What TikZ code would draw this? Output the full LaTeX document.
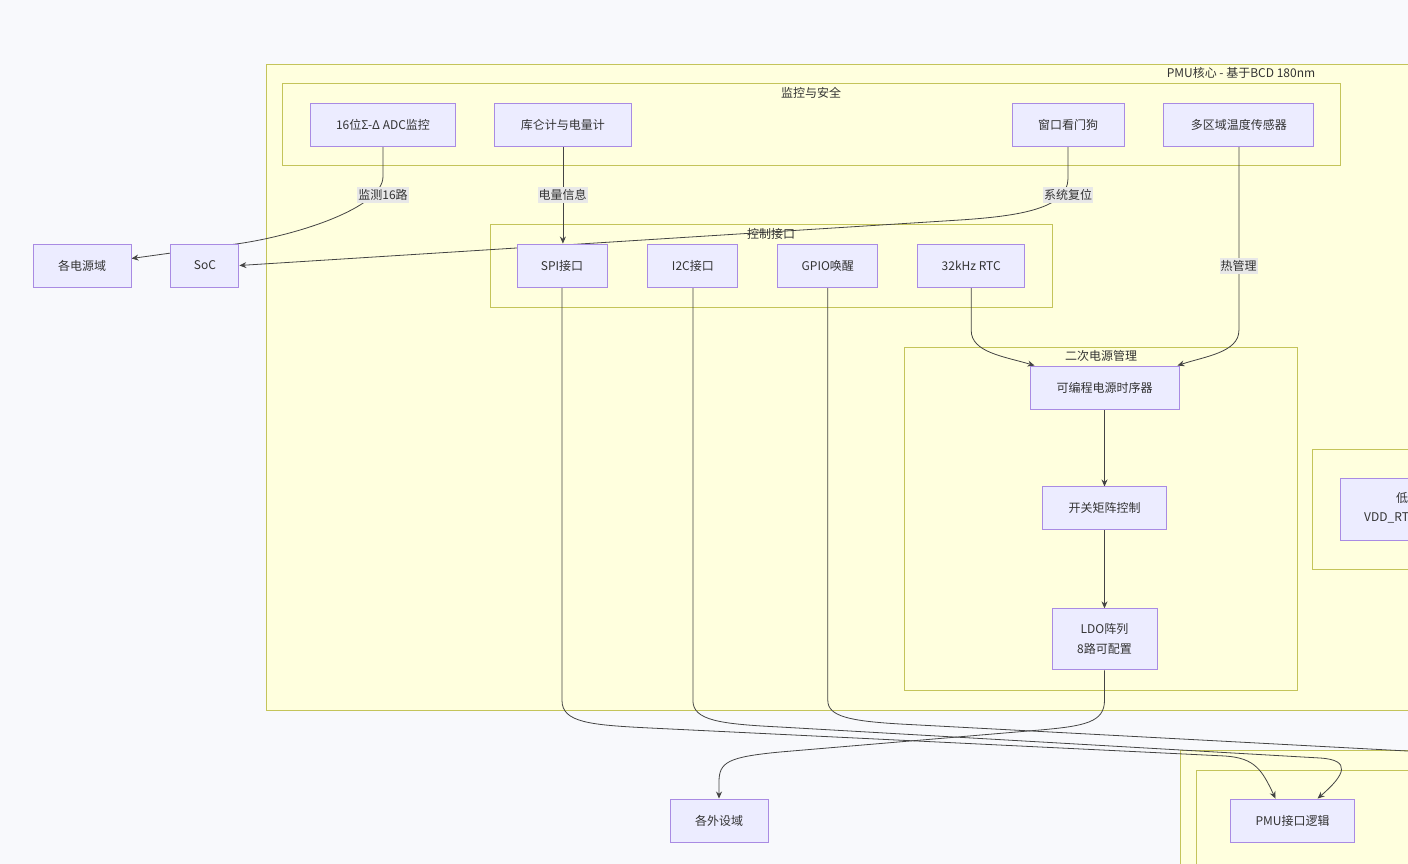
\documentclass[tikz,border=0pt]{standalone}
\usepackage{fontspec}
\setmainfont{Noto Sans CJK SC}
\usetikzlibrary{positioning,arrows.meta}

\definecolor{fond_page}{HTML}{F8F9FC}
\definecolor{fond_groupe}{HTML}{FFFFDE}
\definecolor{bord_groupe}{HTML}{C4C45A}
\definecolor{fond_bloc}{HTML}{ECECFF}
\definecolor{bord_bloc}{HTML}{A98BE3}
\definecolor{trait}{HTML}{444444}
\definecolor{texte}{HTML}{333333}
\definecolor{fond_etiquette}{HTML}{E8E8E8}

\pgfdeclarelayer{fond}
\pgfdeclarelayer{liens}
\pgfsetlayers{fond,liens,main}

\begin{document}
\begin{tikzpicture}[x=1pt,y=-1pt]
        \tikzstyle{bloc} = [rectangle, minimum height=43pt, text centered, draw=bord_bloc, fill=fond_bloc, line width=0.9pt, text=texte, font=\fontsize{12}{20}\selectfont]
        \tikzstyle{groupe} = [draw=bord_groupe, fill=fond_groupe, line width=0.9pt]
        \tikzstyle{titre_groupe} = [text=texte, inner sep=0pt, font=\fontsize{12}{14}\selectfont]
        \tikzstyle{lien} = [draw=trait, line width=0.8pt, -{Stealth[length=7pt,width=6pt]}]
        \tikzstyle{etiquette} = [fill=fond_etiquette, text=texte, inner xsep=1pt, inner ysep=2.5pt, font=\fontsize{12}{14}\selectfont]

        \useasboundingbox (0,0) rectangle (1408,864);

        % groupes
        \begin{pgfonlayer}{fond}
        \fill[fond_page] (0,0) rectangle (1408,864);
        \draw[groupe] (266,64) rectangle (2216,710);
        \draw[groupe] (282,83) rectangle (1340,165);
        \draw[groupe] (490,224) rectangle (1052,307);
        \draw[groupe] (904,347) rectangle (1297,690);
        \draw[groupe] (1312,449) rectangle (1700,569);
        \draw[groupe] (1180,750) rectangle (2000,900);
        \draw[groupe] (1196,770) rectangle (1900,900);
        \end{pgfonlayer}
        \node (titre_pmu) [titre_groupe] at (1241,73) {PMU核心 - 基于BCD 180nm};
        \node (titre_surveillance) [titre_groupe] at (811,93) {监控与安全};
        \node (titre_controle) [titre_groupe] at (771,234) {控制接口};
        \node (titre_gestion) [titre_groupe] at (1101,356) {二次电源管理};

        % monitoring
        \node (adc_monitor) [bloc, minimum width=145pt] at (383,124.5) {16位Σ-Δ ADC监控};
        \node (coulomb) [bloc, minimum width=137pt, right=38pt of adc_monitor] {库仑计与电量计};
        \node (watchdog) [bloc, minimum width=112pt] at (1068,124.5) {窗口看门狗};
        \node (temp_sensor) [bloc, minimum width=150pt, right=39pt of watchdog] {多区域温度传感器};

        % interfaces
        \node (spi) [bloc, minimum width=90pt] at (562,265.5) {SPI接口};
        \node (i2c) [bloc, minimum width=90pt, right=40pt of spi] {I2C接口};
        \node (gpio) [bloc, minimum width=100pt, right=39pt of i2c] {GPIO唤醒};
        \node (rtc) [bloc, minimum width=107pt, right=39pt of gpio] {32kHz RTC};

        % gestion secondaire
        \node (sequenceur) [bloc, minimum width=149pt] at (1104.5,387.5) {可编程电源时序器};
        \node (switch_matrix) [bloc, minimum width=124pt, below=77pt of sequenceur] {开关矩阵控制};
        \node (ldo) [bloc, minimum width=105pt, minimum height=61pt, align=center, below=78pt of switch_matrix] {LDO阵列\\8路可配置};

        \node (low_domain) [bloc, minimum width=200pt, minimum height=62pt, anchor=north west] at (1340,478) {};
        \node (low_domain_l1) [anchor=west, inner sep=0pt, text=texte, font=\fontsize{12}{14}\selectfont] at (1396,498) {低};
        \node (low_domain_l2) [anchor=west, inner sep=0pt, text=texte, font=\fontsize{12}{14}\selectfont] at (1364,518) {VDD\_RT};

        % dehors
        \node (power_domains) [bloc, minimum width=98pt] at (82,265.5) {各电源域};
        \node (soc) [bloc, minimum width=68pt, right=39pt of power_domains] {SoC};
        \node (peripherals) [bloc, minimum width=98pt] at (719,820.5) {各外设域};
        \node (pmu_if) [bloc, minimum width=124pt] at (1292.5,820.5) {PMU接口逻辑};
        \coordinate (gpio_cible) at (1520,757);

        \begin{pgfonlayer}{liens}
        \draw[lien] (adc_monitor.south) -- ++(0,30) .. controls +(0,32) and +(55,-8) .. (soc.north east) -- ([yshift=7pt]power_domains.east);
        \draw[lien] (coulomb.south) -- (coulomb.south |- spi.north);
        \draw[lien] (watchdog.south) -- ++(0,32) .. controls +(0,30) and +(60,-4) .. (960,220) -- (soc.east);
        \draw[lien] (temp_sensor.south) -- ++(0,184) .. controls +(0,22) and +(27,-9) .. ([xshift=-2pt]sequenceur.north east);
        \draw[lien] (rtc.south) -- ++(0,43) .. controls +(0,22) and +(-30,-9) .. ([xshift=5pt]sequenceur.north west);
        \draw[lien] (sequenceur) -- (switch_matrix);
        \draw[lien] (switch_matrix) -- (ldo);
        \draw[lien] (ldo.south) -- ++(0,30) .. controls +(0,22) and (1085,726) .. (1040,730) -- (780,752) .. controls (728,757) and (719,762) .. (719,782) -- (peripherals.north);
        \draw[lien] (spi.south) -- ++(0,413) .. controls +(0,22) and (590,725) .. (650,728) -- (1225,756) .. controls (1255,758) and (1262,770) .. ([xshift=-17pt]pmu_if.north);
        \draw[lien] (i2c.south) -- ++(0,413) .. controls +(0,20) and (720,724) .. (780,727) -- (1320,758) .. controls (1352,760) and (1345,775) .. ([xshift=25pt]pmu_if.north);
        \draw[lien] (gpio.south) -- ++(0,413) .. controls +(0,16) and (850,721) .. (900,724) -- (gpio_cible);
        \end{pgfonlayer}

        \node (lbl_adc) [etiquette] at (383,195) {监测16路};
        \node (lbl_coulomb) [etiquette] at (562.5,195) {电量信息};
        \node (lbl_watchdog) [etiquette] at (1068,195) {系统复位};
        \node (lbl_thermal) [etiquette] at (1238.5,266) {热管理};
\end{tikzpicture}
\end{document}
